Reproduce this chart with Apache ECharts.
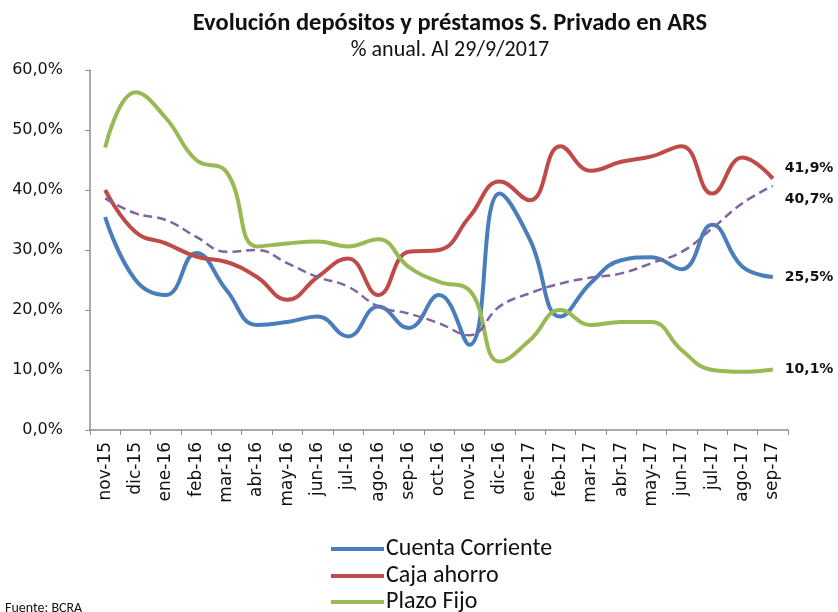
<!DOCTYPE html>
<html><head><meta charset="utf-8">
<script src="https://cdn.jsdelivr.net/npm/echarts@6/dist/echarts.min.js"></script>
<style>html,body{margin:0;padding:0;background:#fff}#c{width:838px;height:612px}</style>
</head><body><div id="c"></div>
<script>
const categories = ['nov-15','dic-15','ene-16','feb-16','mar-16','abr-16','may-16','jun-16','jul-16','ago-16','sep-16','oct-16','nov-16','dic-16','ene-17','feb-17','mar-17','abr-17','may-17','jun-17','jul-17','ago-17','sep-17'];
const cuentaCorriente = [35.5,25.0,22.5,29.5,23.3,17.5,18.0,18.9,15.6,20.6,17.0,22.5,14.2,39.4,31.7,18.9,24.5,28.3,28.8,26.8,34.2,27.2,25.5];
const cajaAhorro = [40.0,33.0,31.1,28.9,28.0,25.5,21.7,25.5,28.6,22.5,29.7,30.0,35.5,41.4,38.3,47.3,43.2,44.7,45.6,47.3,39.4,45.4,41.9];
const plazoFijo = [47.1,56.3,52.0,45.0,43.0,30.6,31.1,31.4,30.6,31.8,27.2,24.7,23.3,11.4,15.0,20.0,17.5,18.0,18.0,13.3,10.0,9.7,10.1];
const tendencia = [38.6,36.1,35.0,32.2,29.7,30.0,27.8,25.5,23.9,20.6,19.4,17.8,15.8,20.6,22.8,24.4,25.4,26.1,27.8,29.7,33.6,37.8,40.7];
const legendNames = ['Cuenta Corriente', 'Caja ahorro', 'Plazo Fijo'];

const TF = 'Carlito, "Liberation Sans Narrow", Lato, sans-serif';
const VF = '"DejaVu Sans", Verdana, sans-serif';
const fmt = v => v.toFixed(1).replace('.', ',') + '%';

function lineSeries(name, data, color, width, dash, offY) {
  return {
    name, type: 'line', data, smooth: 0.45, showSymbol: false, symbol: 'none',
    lineStyle: { color, width, type: dash || 'solid' },
    itemStyle: { color },
    endLabel: { show: true, formatter: p => fmt(p.value), distance: 12, offset: [0, offY],
      fontFamily: VF, fontWeight: 'bold', fontSize: 14, color: '#111' },
    z: dash ? 3 : 2
  };
}

const legendTops = [537, 564, 590];
const legends = legendNames.map((n, i) => ({
  data: [n], orient: 'vertical', left: 331, top: legendTops[i], padding: 0,
  itemWidth: 53, itemHeight: 4, icon: 'rect',
  textStyle: { fontFamily: TF, fontSize: 24, color: '#111', padding: [0, 0, 0, -3] }
}));

const chart = echarts.init(document.getElementById('c'), null, { renderer: 'canvas' });
chart.setOption({
  animation: false,
  backgroundColor: '#fff',
  title: [
    { text: 'Evolución depósitos y préstamos S. Privado en ARS', left: 445, top: 6, textAlign: 'center',
      textStyle: { fontFamily: TF, fontWeight: 'bold', fontSize: 24.5, color: '#111' } },
    { text: '% anual. Al 29/9/2017', left: 445, top: 34, textAlign: 'center',
      textStyle: { fontFamily: TF, fontWeight: 'normal', fontSize: 22, color: '#111' } },
    { text: 'Fuente: BCRA', left: 0, top: 596,
      textStyle: { fontFamily: TF, fontWeight: 'normal', fontSize: 14, color: '#111' } }
  ],
  grid: { left: 90, right: 50, top: 70, bottom: 182, containLabel: false },
  legend: legends,
  xAxis: {
    type: 'category', data: categories, boundaryGap: true,
    axisLine: { lineStyle: { color: '#8c8c8c', width: 1.5 } },
    axisTick: { show: true, length: 5, lineStyle: { color: '#8c8c8c' } },
    axisLabel: { rotate: 90, interval: 0, margin: 12, fontFamily: VF, fontSize: 17, color: '#111' }
  },
  yAxis: {
    type: 'value', min: 0, max: 60, interval: 10,
    axisLine: { show: true, lineStyle: { color: '#8c8c8c', width: 1.5 } },
    axisTick: { show: true, length: 5, lineStyle: { color: '#8c8c8c' } },
    splitLine: { show: false },
    axisLabel: { formatter: v => fmt(v), margin: 27, fontFamily: VF, fontSize: 16, color: '#111' }
  },
  series: [
    lineSeries('Cuenta Corriente', cuentaCorriente, '#4a7ebb', 4, null, 0),
    lineSeries('Caja ahorro', cajaAhorro, '#be4b48', 4, null, -10),
    lineSeries('Plazo Fijo', plazoFijo, '#98b954', 4, null, 0),
    lineSeries('Tendencia', tendencia, '#8064a2', 2.5, [9, 5], 14)
  ]
});
</script></body></html>
